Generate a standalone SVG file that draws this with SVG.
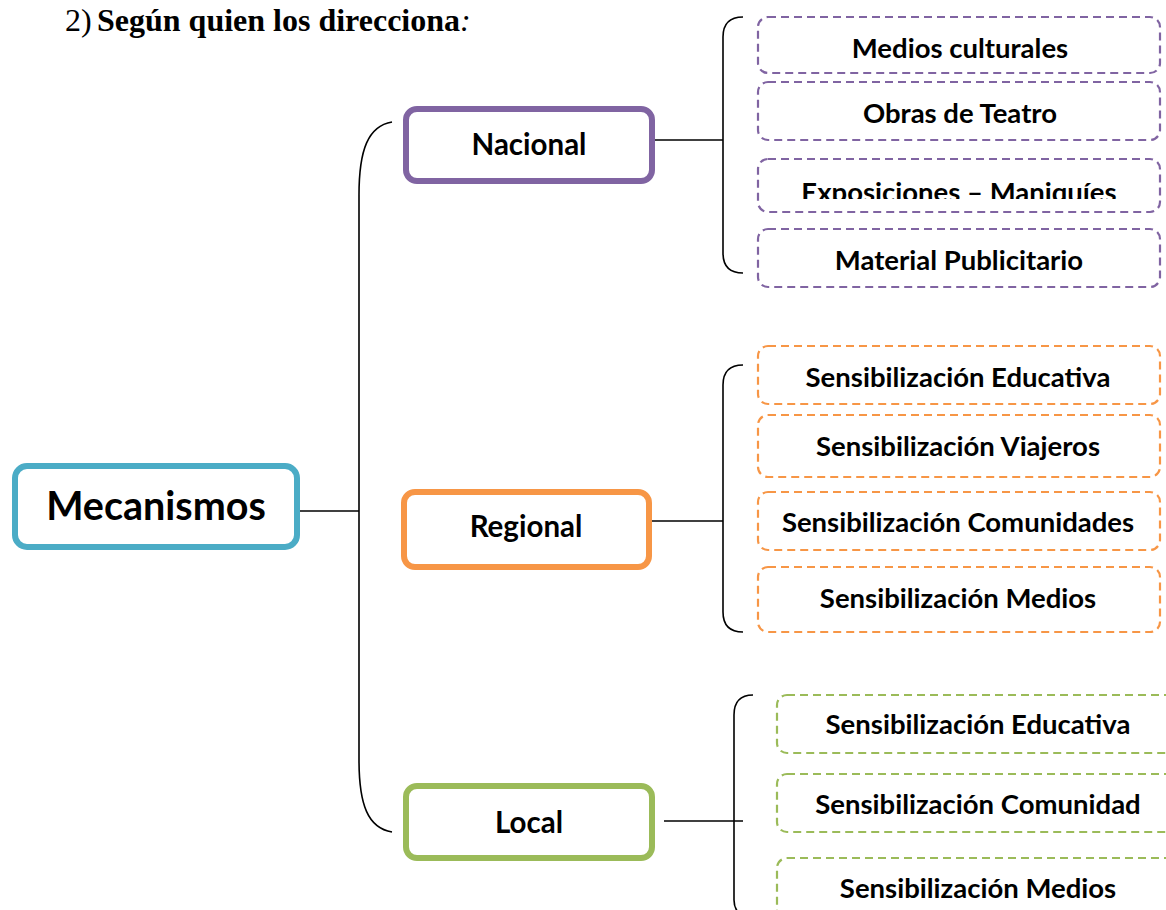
<svg xmlns="http://www.w3.org/2000/svg" width="1166" height="910" viewBox="0 0 1166 910">
<defs>
<style>
.t{font-family:Lato,"Open Sans","Liberation Sans",sans-serif;font-weight:bold;fill:#000;text-anchor:middle}
.s{font-size:27.5px}
.m{font-size:29.5px}
.main{fill:#fff;stroke-width:6}
.sub{fill:#fff;stroke-width:2.2;stroke-dasharray:8 5}
.c{fill:none;stroke:#000;stroke-width:1.6}
</style>
<clipPath id="clip3"><rect x="750" y="150" width="420" height="49"/></clipPath>
</defs>
<rect width="1166" height="910" fill="#fff"/>
<text x="65" y="31" font-family="Liberation Serif,serif" font-size="32">2)<tspan x="97" font-weight="bold">Según quien los direcciona</tspan><tspan font-style="italic">:</tspan></text>

<g id="connectors">
<path class="c" d="M300,511 H359"/>
<path class="c" d="M392,122 C368,126 359,150 359,195 L359,760 C359,805 368,828 392,832"/>
<path class="c" d="M655,140 H723"/>
<path class="c" d="M743,17 Q723,17 723,37 L723,253 Q723,273 743,273"/>
<path class="c" d="M651,521 H723"/>
<path class="c" d="M743,365 Q723,365 723,385 L723,612 Q723,632 743,632"/>
<path class="c" d="M664,821 H743"/>
<path class="c" d="M753,695 Q734,695 734,715 L734,900 Q734,915 750,918"/>
</g>

<g id="mecanismos"><rect class="main" x="15" y="466" width="282" height="81" rx="12" stroke="#4BACC6"/><text class="t" x="156" y="520" font-size="39.5">Mecanismos</text></g>

<g id="nacional"><rect class="main" x="406" y="109" width="246" height="72" rx="11" stroke="#8064A2"/><text class="t m" x="529" y="155">Nacional</text></g>
<g id="n1"><rect class="sub" x="758" y="17" width="402" height="56" rx="10" stroke="#8064A2"/><text class="t s" x="960" y="58">Medios culturales</text></g>
<g id="n2"><rect class="sub" x="758" y="82" width="402" height="58" rx="10" stroke="#8064A2"/><text class="t s" x="960" y="123">Obras de Teatro</text></g>
<g id="n3"><rect class="sub" x="758" y="159" width="402" height="53" rx="10" stroke="#8064A2"/><text class="t s" x="959" y="202" clip-path="url(#clip3)">Exposiciones – Maniquíes</text></g>
<g id="n4"><rect class="sub" x="758" y="229" width="402" height="58" rx="10" stroke="#8064A2"/><text class="t s" x="959" y="270">Material Publicitario</text></g>

<g id="regional"><rect class="main" x="404" y="492" width="245" height="75" rx="11" stroke="#F79646"/><text class="t m" x="526" y="537">Regional</text></g>
<g id="r1"><rect class="sub" x="758" y="346" width="402" height="58" rx="10" stroke="#F79646"/><text class="t s" x="958" y="387">Sensibilización Educativa</text></g>
<g id="r2"><rect class="sub" x="758" y="415" width="402" height="62" rx="10" stroke="#F79646"/><text class="t s" x="958" y="456">Sensibilización Viajeros</text></g>
<g id="r3"><rect class="sub" x="758" y="492" width="402" height="58" rx="10" stroke="#F79646"/><text class="t s" x="958" y="532">Sensibilización Comunidades</text></g>
<g id="r4"><rect class="sub" x="758" y="567" width="402" height="65" rx="10" stroke="#F79646"/><text class="t s" x="958" y="608">Sensibilización Medios</text></g>

<g id="local"><rect class="main" x="406" y="786" width="246" height="72" rx="11" stroke="#9BBB59"/><text class="t m" x="529" y="833">Local</text></g>
<g id="l1"><rect class="sub" x="777" y="695" width="402" height="58" rx="10" stroke="#9BBB59"/><text class="t s" x="978" y="734">Sensibilización Educativa</text></g>
<g id="l2"><rect class="sub" x="777" y="774" width="402" height="58" rx="10" stroke="#9BBB59"/><text class="t s" x="978" y="814">Sensibilización Comunidad</text></g>
<g id="l3"><rect class="sub" x="777" y="858" width="402" height="62" rx="10" stroke="#9BBB59"/><text class="t s" x="978" y="898">Sensibilización Medios</text></g>
</svg>
